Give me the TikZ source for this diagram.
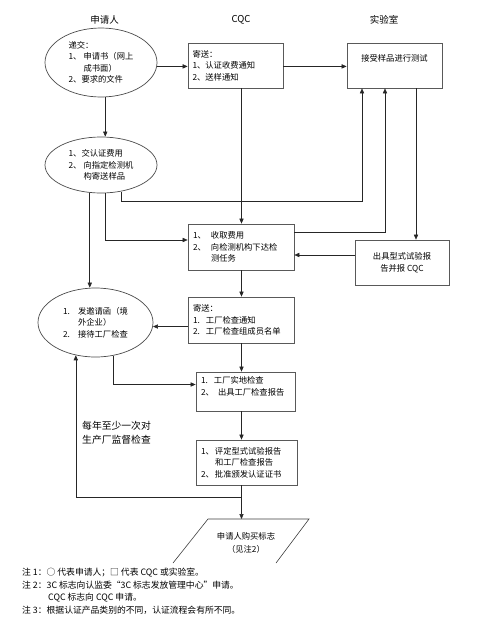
\documentclass[tikz,border=0pt]{standalone}
\usepackage{fontspec}
\setmainfont{Noto Sans CJK SC}
\usetikzlibrary{shapes.geometric,arrows.meta,calc}
\tikzset{
  box/.style={draw=black!65, line width=0.7pt, rectangle, inner sep=0pt, align=left, font=\fontsize{8.3}{11.5}\selectfont},
  cbox/.style={box, align=center},
  ell/.style={draw=black!70, line width=0.7pt, ellipse, inner sep=0pt, align=left, font=\fontsize{8.3}{11.5}\selectfont},
  arr/.style={-{Triangle[length=5pt,width=4.2pt]}, line width=0.6pt, draw=black!85},
  ln/.style={line width=0.6pt, draw=black!85},
  head/.style={font=\fontsize{9.5}{11}\selectfont},
  note/.style={font=\fontsize{8.8}{12.5}\selectfont, anchor=west, inner sep=0pt}
}
\newcommand{\nb}[1]{\makebox[15pt][l]{#1}}
\begin{document}
\begin{tikzpicture}[x=1pt,y=-1pt]
\path[fill=white] (0,0) rectangle (498,622);
\useasboundingbox (0,0) rectangle (498,622);

% headers
\node[head] (h1) at (104.5,20) {申请人};
\node[head] (h2) at (241,20) {CQC};
\node[head] (h3) at (384,20) {实验室};

% applicant ellipses
\node[ell, minimum width=112pt, minimum height=69pt] (e1) at (101,62.5)
  {递交：\\\nb{1、}申请书（网上\\\hspace*{15pt}成书面）\\2、要求的文件};
\node[ell, minimum width=112pt, minimum height=56pt] (e2) at (101,165)
  {1、交认证费用\\\nb{2、}向指定检测机\\\hspace*{15pt}构寄送样品};
\node[ell, minimum width=115pt, minimum height=69pt] (e3) at (95.5,322.5)
  {\nb{1.}发邀请函（境\\\hspace*{15pt}外企业）\\\nb{2.}接待工厂检查};

% CQC boxes
\node[box, minimum width=95pt, minimum height=45pt, text width=86pt] (c1) at (235.5,65.5)
  {寄送：\\1、认证收费通知\\2、送样通知};
\node[box, minimum width=106pt, minimum height=46pt, text width=96pt] (c2) at (241,247)
  {\makebox[18pt][l]{1、}收取费用\\\makebox[18pt][l]{2、}向检测机构下达检\\\hspace*{18pt}测任务};
\node[box, minimum width=106pt, minimum height=46pt, text width=96pt] (c3) at (241,320)
  {寄送：\\\makebox[13pt][l]{1.}工厂检查通知\\\makebox[13pt][l]{2.}工厂检查组成员名单};
\node[box, minimum width=99pt, minimum height=39pt, text width=89pt] (c4) at (245.5,391.5)
  {\makebox[13pt][l]{1.}工厂实地检查\\\makebox[17pt][l]{2、}出具工厂检查报告\\\mbox{}};
\node[box, minimum width=101pt, minimum height=45pt, text width=91pt] (c5) at (246.5,462.5)
  {\makebox[14pt][l]{1、}评定型式试验报告\\\hspace*{14pt}和工厂检查报告\\\makebox[14pt][l]{2、}批准颁发认证证书};

% lab boxes
\node[cbox, minimum width=95pt, minimum height=45pt] (l1) at (394.5,65.5) {接受样品进行测试\\[3pt]};
\node[cbox, minimum width=94pt, minimum height=45pt] (l2) at (402,262.5) {出具型式试验报\\告并报 CQC};

% label
\node[anchor=west, align=left, inner sep=0pt, font=\fontsize{9.8}{13.5}\selectfont] (lab) at (82,433)
  {每年至少一次对\\生产厂监督检查};

% mark parallelogram
\coordinate (pa) at (173,563);
\coordinate (pb) at (208,519);
\coordinate (pc) at (309,519);
\coordinate (pd) at (276,563);
\draw[ln, draw=black!75] (pa) -- (pb) -- (pc) -- (pd);
\node[align=center, inner sep=0pt, font=\fontsize{8.3}{12.5}\selectfont] (p) at (246,543) {申请人购买标志\\（见注2）};

% helper coordinates
\coordinate (ax) at (241.5,0);
\coordinate (ptop) at (241.5,519);
\coordinate (l1a) at ([xshift=-32.5pt]l1.south);
\coordinate (l1b) at ([xshift=-9.5pt]l1.south);
\coordinate (l1c) at ([xshift=21.5pt]l1.south);
\coordinate (k1) at (l1a |- 0,201);
\coordinate (l2w) at ([yshift=7.5pt]l2.west);
\coordinate (c3w) at (c3.west |- e3.-4.5);
\coordinate (fb) at (241.5,497);

% connectors
\draw[arr] (e1.-4) -- (e1.-4 -| c1.west);
\draw[arr] (c1.east |- e1.-4) -- (c1.east |- e1.-4 -| l1.west);
\draw[arr] (e1.277) -- (e1.277 |- e2.north);
\draw[arr] (e2.307) |- (k1) -- (l1a);
\draw[arr] (e2.278) |- ([yshift=7pt]c2.west);
\draw[arr] (e2.248) -- (e2.248 |- e3.north);
\draw[arr] (c1.south -| ax) -- (c2.north -| ax);
\draw[arr] ([yshift=15pt]c2.east) -| (l1b);
\draw[arr] (l1c) -- (l1c |- l2.north);
\draw[arr] (l2w) -- (l2w -| c2.east);
\draw[arr] (c2.south -| ax) -- (c3.north -| ax);
\draw[arr] (c3w) -- (e3.-4.5);
\draw[arr] (e3.298) |- ([yshift=7pt]c4.west);
\draw[arr] (c3.south -| ax) -- (c4.north -| ax);
\draw[arr] (c4.south -| ax) -- (c5.north -| ax);
\draw[arr] (c5.south -| ax) -- (ptop);
\draw[arr] (fb) -| (e3.239);

% notes
\node[note] (n1) at (22,573) {注 1：○ 代表申请人；□ 代表 CQC 或实验室。};
\node[note] (n2) at (22,585.5) {注 2：3C 标志向认监委“3C 标志发放管理中心”申请。};
\node[note] (n3) at (48,598) {CQC 标志向 CQC 申请。};
\node[note] (n4) at (22,610.5) {注 3：根据认证产品类别的不同，认证流程会有所不同。};
\end{tikzpicture}
\end{document}
